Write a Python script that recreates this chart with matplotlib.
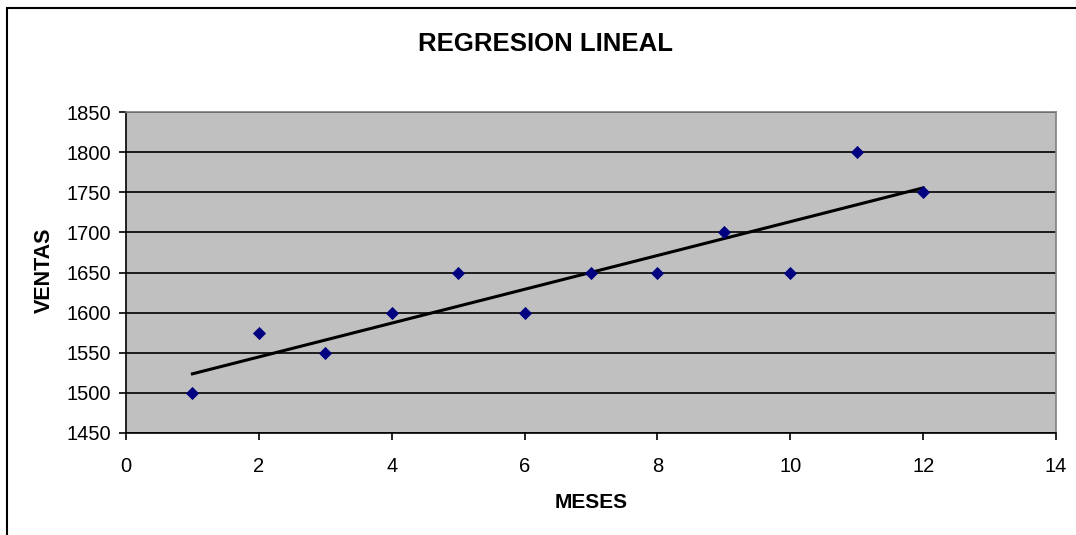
import numpy as np
import matplotlib.pyplot as plt
from matplotlib.patches import Rectangle

#---------------------------------------------------------------------#
# datos
meses = [1, 2, 3, 4, 5, 6, 7, 8, 9, 10, 11, 12]
ventas = [1500, 1575, 1550, 1600, 1650, 1600, 1650, 1650, 1700, 1650, 1800, 1750]
x_ticks = [0, 2, 4, 6, 8, 10, 12, 14]
y_ticks = [1450, 1500, 1550, 1600, 1650, 1700, 1750, 1800, 1850]
#---------------------------------------------------------------------#

plt.rcParams['font.family'] = ['Liberation Sans', 'DejaVu Sans']

W, H = 1076, 535
fig = plt.figure(figsize=(W / 100, H / 100), dpi=100)
fig.patch.set_facecolor('white')

# borde del area del grafico (recortado a la derecha y abajo)
fig.patches.append(Rectangle((7 / W, -0.05), 1.2, 1 - 8 / H + 0.05,
                             transform=fig.transFigure, fill=False,
                             edgecolor='black', linewidth=1.5))

ax = fig.add_axes([126 / W, 1 - 433 / H, (1056 - 126) / W, (433 - 112) / H])
ax.set_facecolor('#c0c0c0')

ax.set_xlim(0, 14)
ax.set_ylim(1450, 1850)
ax.set_xticks(x_ticks)
ax.set_yticks(y_ticks)

ax.yaxis.grid(True, color='black', linewidth=1.2)
ax.set_axisbelow(True)

# recta de regresion
m, b = np.polyfit(meses, ventas, 1)
xs = np.array([meses[0], meses[-1]])
ax.plot(xs, m * xs + b, color='black', linewidth=2.2, zorder=3)

ax.scatter(meses, ventas, marker='D', s=45, color='#000080', zorder=4,
           linewidths=0)

for s in ['top', 'right']:
    ax.spines[s].set_color('#808080')
    ax.spines[s].set_linewidth(1.2)
for s in ['left', 'bottom']:
    ax.spines[s].set_color('black')
    ax.spines[s].set_linewidth(1.2)

ax.tick_params(axis='both', direction='out', length=5, width=1.2,
               labelsize=14.5, colors='black')
ax.tick_params(axis='y', pad=6)
ax.tick_params(axis='x', pad=12)

fig.text(546 / W, 1 - 44 / H, 'REGRESION LINEAL', ha='center', va='center',
         fontsize=18.5, fontweight='bold')
fig.text(591 / W, 1 - 503 / H, 'MESES', ha='center', va='center',
         fontsize=15, fontweight='bold')
fig.text(44 / W, 1 - 270 / H, 'VENTAS', ha='center', va='center',
         rotation=90, fontsize=15.5, fontweight='bold')

fig.savefig('out.png', dpi=100)
